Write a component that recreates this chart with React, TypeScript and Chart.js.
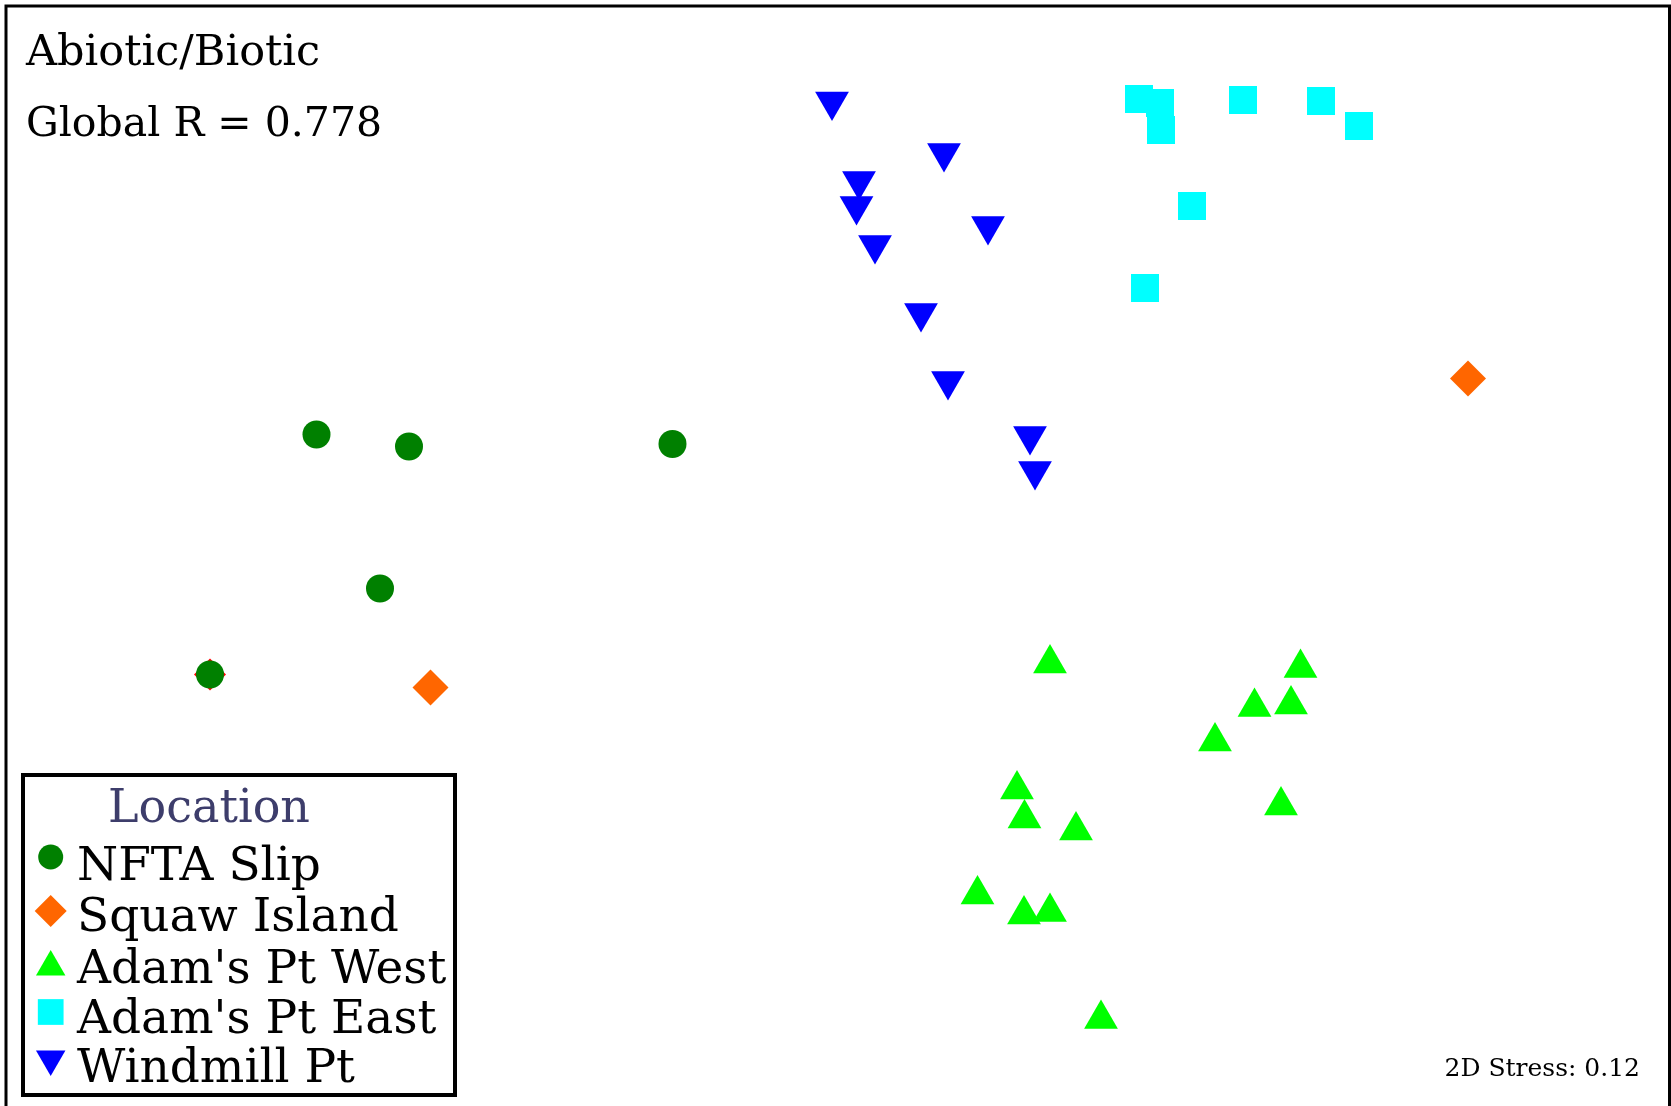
import React, { useEffect, useRef } from "react";
import { Chart, registerables } from "chart.js";
import { drawPoint } from "chart.js/helpers";

Chart.register(...registerables);

// nMDS ordination coordinates (arbitrary MDS units)
const seriesLabels = ["NFTA Slip", "Squaw Island", "Adam's Pt West", "Adam's Pt East", "Windmill Pt"];

const nftaX = [-1.038, -0.853, -0.326, -0.911, -1.251];
const nftaY = [0.237, 0.213, 0.218, -0.071, -0.243];

const squawX = [-1.251, -0.81, 1.265];
const squawY = [-0.243, -0.269, 0.349];

const westX = [0.429, 0.93, 0.838, 0.911, 0.759, 0.363, 0.891, 0.378, 0.481, 0.284, 0.377, 0.429, 0.531];
const westY = [-0.221, -0.23, -0.308, -0.303, -0.377, -0.473, -0.505, -0.531, -0.555, -0.683, -0.723, -0.718, -0.932];

const eastX = [0.607, 0.649, 0.651, 0.815, 0.971, 1.047, 0.713, 0.619];
const eastY = [0.908, 0.9, 0.846, 0.906, 0.904, 0.854, 0.694, 0.53];

const windX = [-0.007, 0.217, 0.047, 0.042, 0.305, 0.079, 0.171, 0.225, 0.389, 0.399];
const windY = [0.903, 0.8, 0.744, 0.694, 0.654, 0.616, 0.48, 0.344, 0.234, 0.164];

const titleText = "Abiotic/Biotic";
const statText = "Global R = 0.778";
const legendTitle = "Location";
const stressText = "2D Stress: 0.12";

const colors = ["#008000", "#ff6600", "#00ff00", "#00ffff", "#0000ff"];
const styles = ["circle", "rectRot", "triangle", "rect", "triangle"];
const rotations = [0, 0, 0, 0, 180];

const zip = (xs: number[], ys: number[]) => xs.map((x, i) => ({ x, y: ys[i] }));

const FONT = '"DejaVu Serif", Georgia, serif';

const overlayPlugin = {
  id: "overlay",
  afterDraw(chart: any) {
    const ctx = chart.ctx as CanvasRenderingContext2D;
    ctx.save();
    // outer frame
    ctx.strokeStyle = "#000";
    ctx.lineWidth = 3;
    ctx.strokeRect(6, 6, 1663.5, 1120);

    ctx.fillStyle = "#000";
    ctx.textBaseline = "alphabetic";
    ctx.textAlign = "left";
    ctx.font = `43px ${FONT}`;
    ctx.fillText(titleText, 26, 65);
    ctx.font = `41px ${FONT}`;
    ctx.fillText(statText, 26, 136);

    ctx.textAlign = "right";
    ctx.font = `25px ${FONT}`;
    ctx.fillText(stressText, 1640, 1076);

    // legend box
    ctx.lineWidth = 4;
    ctx.strokeStyle = "#000";
    ctx.fillStyle = "#fff";
    ctx.fillRect(23, 775, 432, 320);
    ctx.strokeRect(23, 775, 432, 320);

    ctx.textAlign = "left";
    ctx.fillStyle = "#3d3d6b";
    ctx.font = `46px ${FONT}`;
    ctx.fillText(legendTitle, 108, 822);

    const baselines = [880, 931, 983, 1033, 1082];
    const markerY = [857, 911, 967, 1012, 1059];
    const markerR = [12.5, 16, 17, 18.2, 17];
    ctx.font = `47px ${FONT}`;
    seriesLabels.forEach((lab, i) => {
      ctx.fillStyle = colors[i];
      drawPoint(ctx, { pointStyle: styles[i], radius: markerR[i], rotation: rotations[i], borderWidth: 0 } as any, 50.7, markerY[i]);
      ctx.fillStyle = "#000";
      ctx.fillText(lab, 77, baselines[i]);
    });
    ctx.restore();
  },
};

export default function App() {
  const ref = useRef<HTMLCanvasElement>(null);
  useEffect(() => {
    const canvas = ref.current!;
    const radii = [14, 18, 19.5, 19.8, 19.5];
    const data = [zip(nftaX, nftaY), zip(squawX, squawY), zip(westX, westY), zip(eastX, eastY), zip(windX, windY)];
    const datasets = data.map((d, i) => ({
      label: seriesLabels[i],
      data: d,
      pointStyle: styles[i],
      pointRotation: rotations[i],
      pointRadius: i === 1 ? d.map((_, j) => (j === 0 ? 16 : radii[i])) : radii[i],
      pointBackgroundColor: i === 1 ? d.map((_, j) => (j === 0 ? "#ff0000" : colors[i])) : colors[i],
      pointBorderWidth: 0,
      pointBorderColor: colors[i],
      showLine: false,
    }));
    const chart = new Chart(canvas, {
      type: "scatter",
      data: { datasets },
      options: {
        animation: false,
        responsive: false,
        maintainAspectRatio: false,
        devicePixelRatio: 1,
        layout: { padding: 0, autoPadding: false },
        scales: {
          x: { type: "linear", min: -1.671, max: 1.671, display: false },
          y: { type: "linear", min: -1.106, max: 1.106, display: false },
        },
        plugins: { legend: { display: false }, tooltip: { enabled: false }, title: { display: false } },
        events: [],
      },
      plugins: [overlayPlugin],
    } as any);
    return () => chart.destroy();
  }, []);
  return (
    <div style={{ position: "fixed", left: 0, top: 0, width: 1671, height: 1106, background: "#fff" }}>
      <canvas ref={ref} width={1671} height={1106} style={{ display: "block", width: 1671, height: 1106 }} />
    </div>
  );
}
